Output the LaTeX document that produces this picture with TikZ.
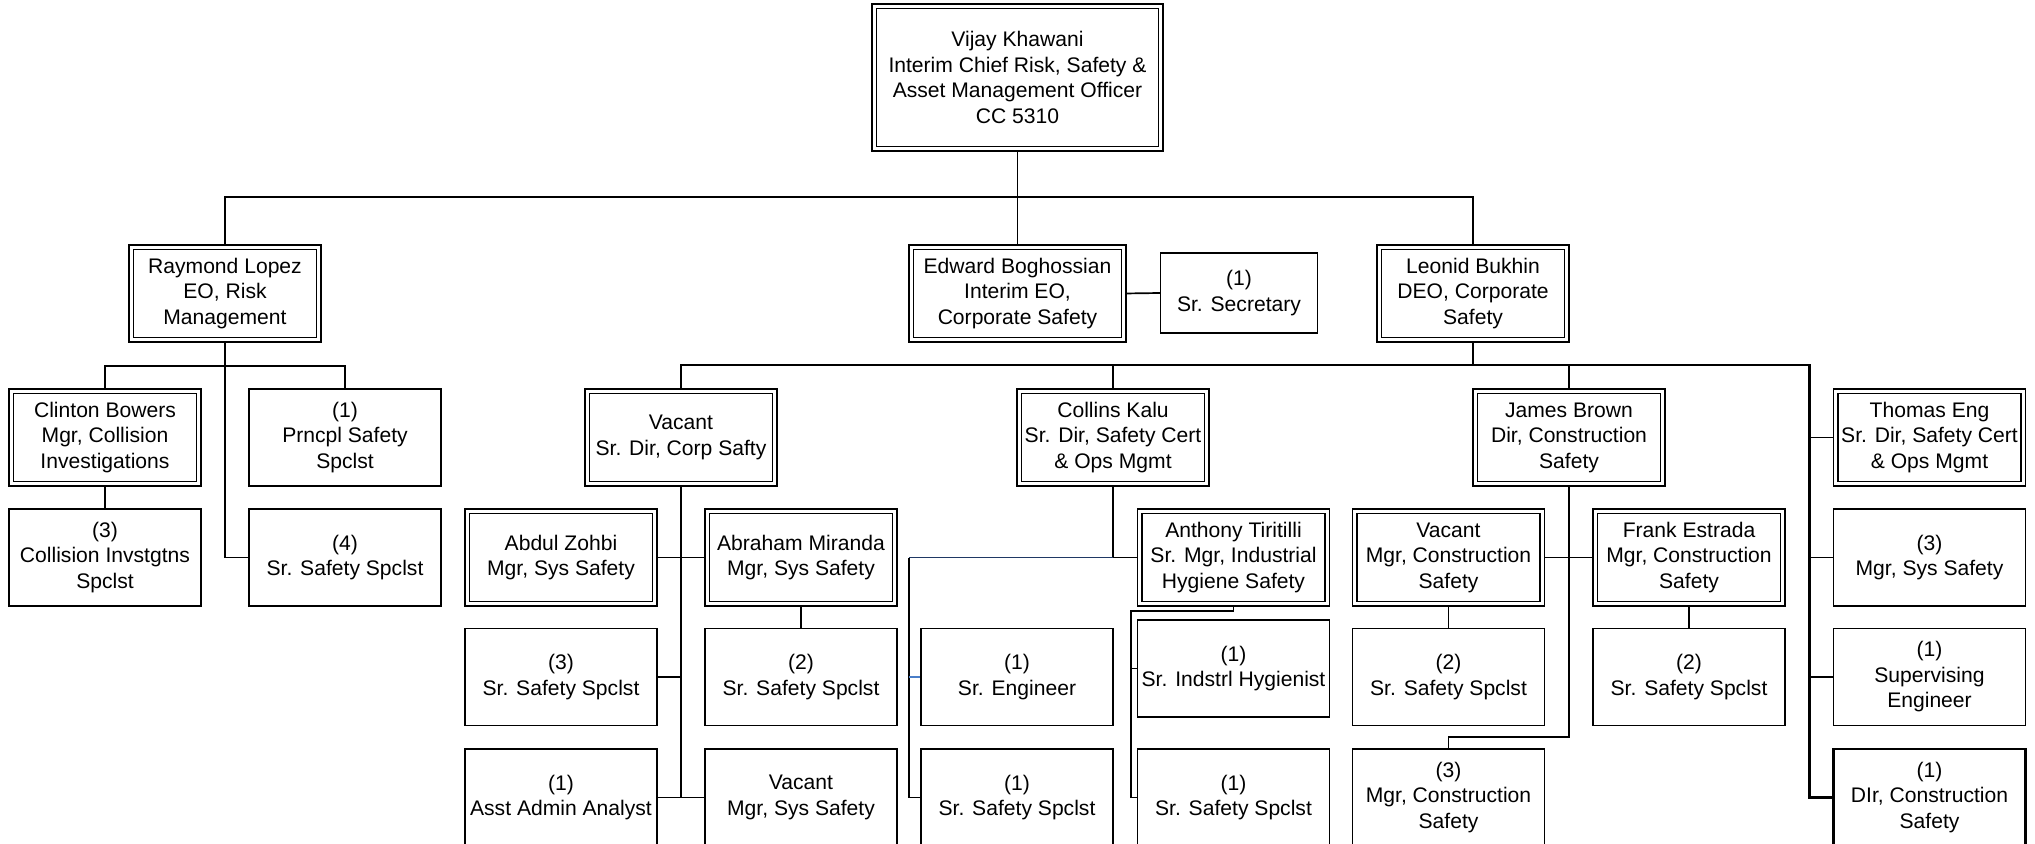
\documentclass[tikz,border=0pt]{standalone}
\usepackage{fontspec}
\setmainfont{Liberation Sans}
\usetikzlibrary{calc}
\pgfdeclarelayer{bg}
\pgfsetlayers{bg,main}
\definecolor{navyline}{RGB}{31,56,100}
\definecolor{tickblue}{RGB}{74,126,200}
\tikzset{
  base/.style={fill=white, inner sep=0pt, align=center, font=\fontsize{10.55pt}{12.75pt}\selectfont, line width=0.72pt},
  sbox/.style={base, draw, minimum width=96pt, minimum height=48.5pt},
  dbox/.style={base, draw, double, double distance=1.5pt, minimum width=93.75pt, minimum height=46.25pt},
  conn/.style={line width=0.7pt, black},
  thickconn/.style={line width=1.1pt, black},
}
\begin{document}
\begin{tikzpicture}[x=0.5pt,y=-0.5pt]
\useasboundingbox (0,0) rectangle (2035,844);
\clip (0,0) rectangle (2035,844);
% Row A
\node[dbox, minimum width=143.25pt, minimum height=71.25pt] (vijay) at (1017.5,77.5) {Vijay Khawani\\Interim Chief Risk, Safety \&\\Asset Management Officer\\CC 5310};
% Row B
\node[dbox] (raymond) at (225,293.5) {Raymond Lopez\\EO, Risk\\Management};
\node[dbox, minimum width=106.25pt] (edward) at (1017.5,293.5) {Edward Boghossian\\Interim EO,\\Corporate Safety};
\node[sbox, minimum width=78.5pt, minimum height=40pt] (sec) at (1239,293) {(1)\\Sr. Secretary};
\node[dbox] (leonid) at (1473,293.5) {Leonid Bukhin\\DEO, Corporate\\Safety};
% Row C
\node[dbox] (clinton) at (105,437.5) {Clinton Bowers\\Mgr, Collision\\Investigations};
\node[sbox] (prncpl) at (345,437.5) {(1)\\Prncpl Safety\\Spclst};
\node[dbox] (vcorp) at (681,437.5) {Vacant\\Sr. Dir, Corp Safty};
\node[dbox] (collins) at (1113,437.5) {Collins Kalu\\Sr. Dir, Safety Cert\\\& Ops Mgmt};
\node[dbox] (james) at (1569,437.5) {James Brown\\Dir, Construction\\Safety};
\node[dbox] (thomas) at (1929.5,437.5) {Thomas Eng\\Sr. Dir, Safety Cert\\\& Ops Mgmt};
% Row D
\node[sbox] (collision) at (105,557.5) {(3)\\Collision Invstgtns\\Spclst};
\node[sbox] (srsfour) at (345,557.5) {(4)\\Sr. Safety Spclst};
\node[dbox] (abdul) at (561,557.5) {Abdul Zohbi\\Mgr, Sys Safety};
\node[dbox] (abraham) at (801,557.5) {Abraham Miranda\\Mgr, Sys Safety};
\node[dbox] (anthony) at (1233.5,557.5) {Anthony Tiritilli\\Sr. Mgr, Industrial\\Hygiene Safety};
\node[dbox] (vmc) at (1448.5,557.5) {Vacant\\Mgr, Construction\\Safety};
\node[dbox] (frank) at (1689,557.5) {Frank Estrada\\Mgr, Construction\\Safety};
\node[sbox] (mgrsys) at (1929.5,557.5) {(3)\\Mgr, Sys Safety};
% Row E
\node[sbox] (srsthree) at (561,677) {(3)\\Sr. Safety Spclst};
\node[sbox] (srstwoa) at (801,677) {(2)\\Sr. Safety Spclst};
\node[sbox] (sreng) at (1017,677) {(1)\\Sr. Engineer};
\node[sbox] (hyg) at (1233.5,668.5) {(1)\\Sr. Indstrl Hygienist};
\node[sbox] (srstwob) at (1448.5,677) {(2)\\Sr. Safety Spclst};
\node[sbox] (srstwoc) at (1689,677) {(2)\\Sr. Safety Spclst};
\node[sbox] (superv) at (1929.5,677) {(1)\\Supervising\\Engineer};
% Row F
\node[sbox] (asst) at (561,797.5) {(1)\\Asst Admin Analyst};
\node[sbox] (vmss) at (801,797.5) {Vacant\\Mgr, Sys Safety};
\node[sbox] (srsonea) at (1017,797.5) {(1)\\Sr. Safety Spclst};
\node[sbox] (srsoneb) at (1233.5,797.5) {(1)\\Sr. Safety Spclst};
\node[sbox] (mgrcon) at (1448.5,797.5) {(3)\\Mgr, Construction\\Safety};
\node[sbox, line width=1.1pt] (dir) at (1929.5,797.5) {(1)\\DIr, Construction\\Safety};

\coordinate (busTop) at (1017.5,197);
\coordinate (busR) at (225,366);
\coordinate (busL) at (1473,365);
\coordinate (tv) at (1809.5,365);
\coordinate (cL) at (909,557.5);
\coordinate (aL) at (1131,611);
\coordinate (jB) at (1569,737);

\begin{pgfonlayer}{bg}
\draw[conn] (vijay.south) -- (edward.north);
\draw[conn] (raymond.north) |- (busTop) -| (leonid.north);
\draw[conn, line width=0.85pt] (edward.east) -- (sec.west);
% Raymond
\draw[conn] (raymond.south) |- (srsfour.west);
\draw[conn] (clinton.north) |- (busR) -| (prncpl.north);
\draw[conn] (clinton.south) -- (collision.north);
% Leonid
\draw[conn] (leonid.south) -- (busL) -| (vcorp.north);
\draw[conn] (busL) -| (collins.north);
\draw[conn] (busL) -| (james.north);
\draw[thickconn] (busL) -- (tv) |- (dir.west);
\draw[conn] (tv) |- (thomas.west);
\draw[conn] (tv) |- (mgrsys.west);
\draw[conn] (tv) |- (superv.west);
% Vacant corp
\draw[conn] (vcorp.south) |- (asst.east);
\draw[conn] (vcorp.south) |- (vmss.west);
\draw[conn] (vcorp.south) |- (abdul.east);
\draw[conn] (vcorp.south) |- (abraham.west);
\draw[conn] (vcorp.south) |- (srsthree.east);
\draw[conn] (abraham.south) -- (srstwoa.north);
% Collins
\draw[conn] (collins.south) |- (anthony.west);
\draw[line width=0.7pt, navyline] (collins.south |- cL) -- (cL);
\draw[conn] (cL) |- (srsonea.west);
\draw[line width=0.7pt, tickblue] (cL |- sreng.west) -- (sreng.west);
% Anthony
\draw[conn] (anthony.south) -- (anthony.south |- aL) -- (aL) |- (srsoneb.west);
\draw[conn] (aL) |- (hyg.west);
% James
\draw[conn] (james.south) -- (jB) -| (mgrcon.north);
\draw[conn] (vmc.east) -- (frank.west);
\draw[conn] (vmc.south) -- (srstwob.north);
\draw[conn] (frank.south) -- (srstwoc.north);
\end{pgfonlayer}
\end{tikzpicture}
\end{document}
